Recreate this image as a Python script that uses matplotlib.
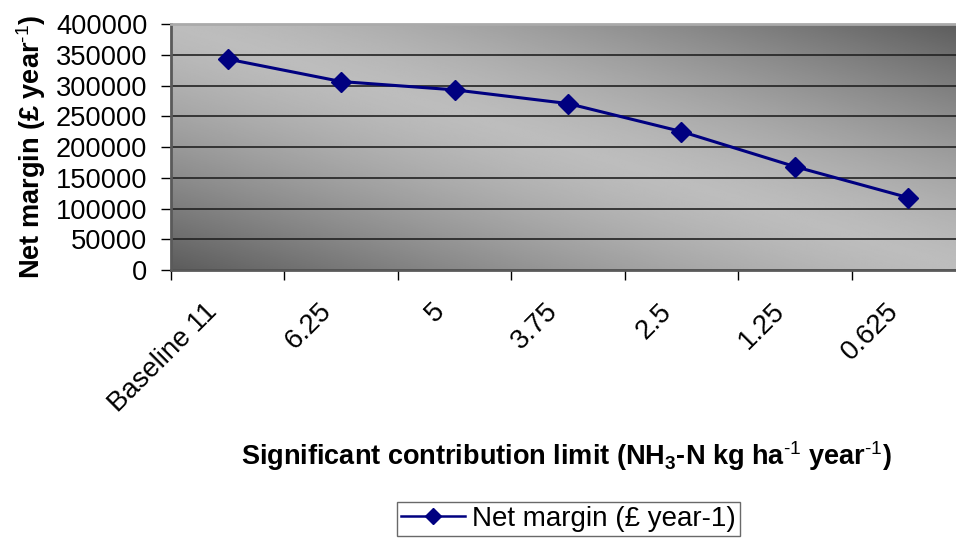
import numpy as np
import matplotlib
matplotlib.use("Agg")
from matplotlib import pyplot as plt
from matplotlib.lines import Line2D
from matplotlib.transforms import ScaledTranslation

plt.rcParams['font.family'] = ['Liberation Sans', 'DejaVu Sans']
plt.rcParams['mathtext.fontset'] = 'custom'
plt.rcParams['mathtext.rm'] = 'Liberation Sans'
plt.rcParams['mathtext.bf'] = 'Liberation Sans:bold'
plt.rcParams['mathtext.default'] = 'regular'

# data
categories = ['Baseline 11', '6.25', '5', '3.75', '2.5', '1.25', '0.625']
net_margin = [343000, 306500, 293000, 270700, 225200, 168200, 117700]
y_ticks = list(range(0, 400001, 50000))

fig = plt.figure(figsize=(9.56, 5.39), dpi=100)
# plot area runs past the right edge of the picture, like the original
ax = fig.add_axes([0.1789, 0.499, 0.8305, 0.4564])

# diagonal grey gradient background: light along the top-left/bottom-right diagonal
u, v = np.meshgrid(np.linspace(0, 1, 300), np.linspace(0, 1, 300))
d = np.abs(u + v - 1)
shade = 0.74 - 0.38 * d ** 1.4
ax.imshow(shade, cmap='gray', vmin=0, vmax=1, origin='lower', extent=[0, 1, 0, 1],
          transform=ax.transAxes, aspect='auto', zorder=0, interpolation='bilinear')

x = np.arange(len(categories))
ax.plot(x, net_margin, color='#000080', lw=2.2, marker='D', markersize=10,
        zorder=3)

ax.set_xlim(-0.5, len(categories) - 0.5)
ax.set_ylim(0, 400000)
ax.set_yticks(y_ticks)
ax.yaxis.grid(True, color='#222222', lw=1.2)
for gl in ax.get_ygridlines():
    gl.set_zorder(1)

ax.set_xticks(x)
ax.set_xticklabels(categories, rotation=45, ha='right', va='center', rotation_mode='anchor')
ax.set_xticks(np.arange(len(categories) + 1) - 0.5, minor=True)
ax.tick_params(axis='x', which='major', length=0, pad=27, labelsize=19.8)
ax.tick_params(axis='x', which='minor', length=7, color='black', width=1)
ax.tick_params(axis='y', length=7, width=1, labelsize=19.6, pad=10)

# nudge the slanted labels left so they end just left of each point
shift = ScaledTranslation(-0.14, 0, fig.dpi_scale_trans)
for lab in ax.get_xticklabels():
    lab.set_transform(lab.get_transform() + shift)

for side in ['left', 'bottom']:
    ax.spines[side].set_color('#5a5a5a')
    ax.spines[side].set_linewidth(2)
ax.spines['top'].set_color('#aaaaaa')
ax.spines['top'].set_linewidth(2)
ax.spines['right'].set_visible(False)

ax.set_ylabel(r'Net margin (£ year$^{\text{-1}}$)', fontsize=19.5, fontweight='bold', labelpad=6)
fig.text(0.592, 0.154,
         r'Significant contribution limit (NH$_3$-N kg ha$^{\text{-1}}$ year$^{\text{-1}}$)',
         fontsize=19.5, fontweight='bold', ha='center', va='center')

handle = Line2D([], [], color='#000080', lw=1.8, marker='D', markersize=8)
fig.legend([handle], ['Net margin (£ year-1)'], loc='upper left',
           bbox_to_anchor=(0.415, 0.069), fontsize=20, frameon=True, fancybox=False,
           edgecolor='#444444', handlelength=2.3, handletextpad=0.25, borderpad=0.15,
           borderaxespad=0)

fig.savefig('out.png', dpi=100)
